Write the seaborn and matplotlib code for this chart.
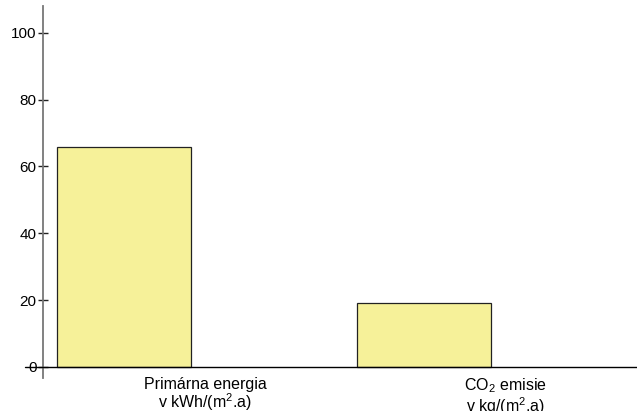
import pandas as pd
import matplotlib.pyplot as plt
import seaborn as sns

# data
kategorie = ["Primárna energia\nv kWh/(m$^2$.a)", "CO$_2$ emisie\nv kg/(m$^2$.a)"]
hodnoty = [65.7, 19.2]
yticks = [0, 20, 40, 60, 80, 100]

df = pd.DataFrame({"kategoria": kategorie, "hodnota": hodnoty})

sns.set_style("white")
plt.rcParams["font.family"] = ["Liberation Sans", "DejaVu Sans"]
plt.rcParams["mathtext.fontset"] = "custom"
plt.rcParams["mathtext.rm"] = "Liberation Sans"
plt.rcParams["mathtext.it"] = "Liberation Sans"

fig = plt.figure(figsize=(6.37, 4.11), dpi=100)
ax = fig.add_axes([43 / 637, 33 / 411, 1 - 43 / 637, (411 - 6 - 33) / 411])

sns.barplot(data=df, x="kategoria", y="hodnota", color="#f6f199", saturation=1,
            width=0.447, edgecolor="#222222", linewidth=0.9, ax=ax)

ax.set_xlim(-0.27, 1.71)
ax.set_ylim(-3.3, 108)
ax.axhline(0, color="black", linewidth=1.0, zorder=3, xmin=-0.03, clip_on=False)

# etikety kategorii posunute vpravo od stlpcov
ax.set_xticks([0.27, 1.27])
ax.set_xticklabels(kategorie, fontsize=11.5, linespacing=1.0, color="black")
ax.tick_params(axis="x", bottom=False, length=0, pad=-1)

ax.set_yticks(yticks)
ax.tick_params(axis="y", left=True, direction="inout", length=7.5, width=1.0,
               color="#222222", labelsize=11, labelcolor="black", pad=1)

ax.set_xlabel("")
ax.set_ylabel("")
for s in ["top", "right", "bottom"]:
    ax.spines[s].set_visible(False)
ax.spines["left"].set_color("#777777")
ax.spines["left"].set_linewidth(1.3)

plt.savefig("out.png", dpi=100)
